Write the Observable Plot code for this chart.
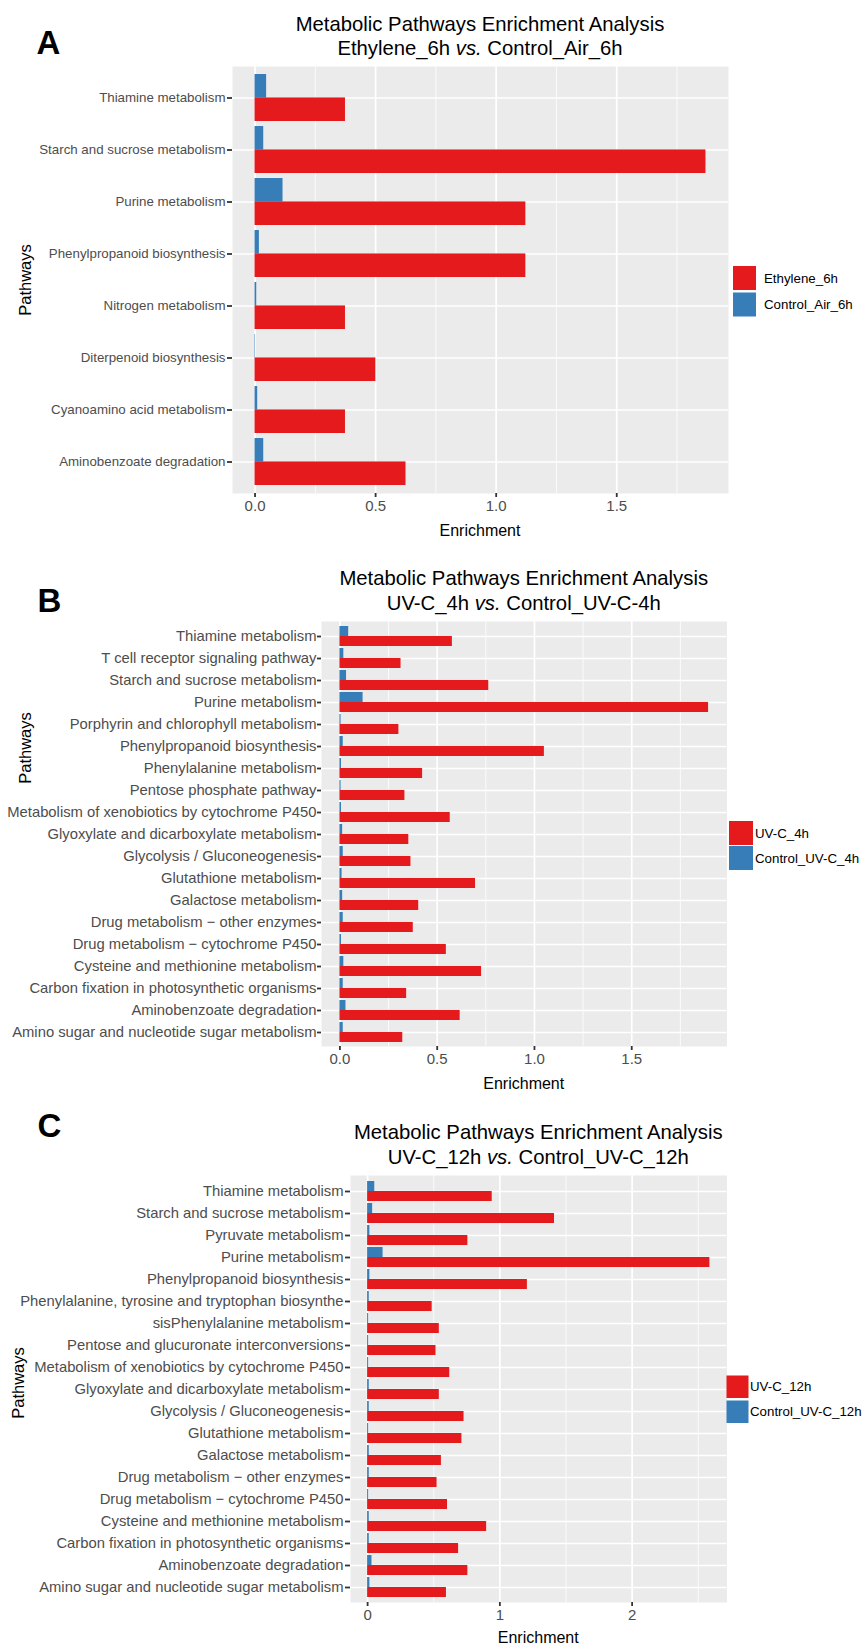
<!DOCTYPE html>
<html><head><meta charset="utf-8">
<script src="https://cdn.jsdelivr.net/npm/d3@7"></script>
<script src="https://cdn.jsdelivr.net/npm/@observablehq/plot@0.6"></script>
<style>
body{margin:0;background:#fff;font-family:"Liberation Sans",Arial,sans-serif;}
#page{position:relative;width:863px;height:1645px;overflow:hidden;background:#fff;}
</style></head><body><div id="page"></div>
<script>
// ---------- DATA ----------
const catsA = ["Thiamine metabolism","Starch and sucrose metabolism","Purine metabolism","Phenylpropanoid biosynthesis","Nitrogen metabolism","Diterpenoid biosynthesis","Cyanoamino acid metabolism","Aminobenzoate degradation"];
const treatA = [0.375,1.870,1.123,1.123,0.375,0.501,0.375,0.626];
const controlA = [0.048,0.036,0.116,0.018,0.007,0.002,0.011,0.036];
const seriesA = ["Ethylene_6h","Control_Air_6h"];

const catsB = ["Thiamine metabolism","T cell receptor signaling pathway","Starch and sucrose metabolism","Purine metabolism","Porphyrin and chlorophyll metabolism","Phenylpropanoid biosynthesis","Phenylalanine metabolism","Pentose phosphate pathway","Metabolism of xenobiotics by cytochrome P450","Glyoxylate and dicarboxylate metabolism","Glycolysis / Gluconeogenesis","Glutathione metabolism","Galactose metabolism","Drug metabolism \u2212 other enzymes","Drug metabolism \u2212 cytochrome P450","Cysteine and methionine metabolism","Carbon fixation in photosynthetic organisms","Aminobenzoate degradation","Amino sugar and nucleotide sugar metabolism"];
const treatB = [0.578,0.314,0.765,1.895,0.303,1.051,0.425,0.334,0.567,0.354,0.365,0.697,0.405,0.377,0.547,0.728,0.343,0.618,0.323];
const controlB = [0.045,0.020,0.034,0.119,0.006,0.017,0.008,0.006,0.008,0.014,0.017,0.011,0.014,0.017,0.008,0.020,0.017,0.031,0.017];
const seriesB = ["UV-C_4h","Control_UV-C_4h"];

const catsC = ["Thiamine metabolism","Starch and sucrose metabolism","Pyruvate metabolism","Purine metabolism","Phenylpropanoid biosynthesis","Phenylalanine, tyrosine and tryptophan biosynthe","sisPhenylalanine metabolism","Pentose and glucuronate interconversions","Metabolism of xenobiotics by cytochrome P450","Glyoxylate and dicarboxylate metabolism","Glycolysis / Gluconeogenesis","Glutathione metabolism","Galactose metabolism","Drug metabolism \u2212 other enzymes","Drug metabolism \u2212 cytochrome P450","Cysteine and methionine metabolism","Carbon fixation in photosynthetic organisms","Aminobenzoate degradation","Amino sugar and nucleotide sugar metabolism"];
const treatC = [0.942,1.413,0.758,2.588,1.208,0.488,0.542,0.517,0.621,0.542,0.729,0.713,0.558,0.525,0.604,0.900,0.688,0.758,0.596];
const controlC = [0.054,0.038,0.017,0.117,0.017,0.0125,0.008,0.008,0.008,0.0125,0.0125,0.008,0.0125,0.0125,0.008,0.0125,0.0125,0.033,0.017];
const seriesC = ["UV-C_12h","Control_UV-C_12h"];

const majorAB = [0, 0.5, 1, 1.5];
const minorAB = [0.25, 0.75, 1.25, 1.75];
const majorC = [0, 1, 2];
const minorC = [0.5, 1.5, 2.5];

const titleLine1 = "Metabolic Pathways Enrichment Analysis";
const titleA = ["Ethylene_6h ", "vs.", " Control_Air_6h"];
const titleB = ["UV-C_4h ", "vs.", " Control_UV-C-4h"];
const titleC = ["UV-C_12h ", "vs.", " Control_UV-C_12h"];
const xTitle = "Enrichment";
const yTitle = "Pathways";

// ---------- STYLE ----------
const W = 863;
const FONT = "'Liberation Sans', Arial, sans-serif";
const RED = "#e41a1c", BLUE = "#377eb8";
const page = document.getElementById("page");

const overlay = d3.select(page).append("svg")
  .attr("width", W).attr("height", 1645)
  .style("position","absolute").style("left","0px").style("top","0px")
  .style("font-family", FONT).style("pointer-events","none").style("z-index", 2);

function panel(cfg) {
  const n = cfg.cats.length;
  const H = cfg.B - cfg.T;
  const step = H / (n + 0.2);
  const half = 0.45 * step;
  const mt = 6, mb = 34;
  const mx = d3.max(cfg.treat);
  const rows = cfg.cats.map((c, i) => ({cat: c, treat: cfg.treat[i], control: cfg.control[i]}));
  const chart = Plot.plot({
    width: W, height: H + mt + mb,
    marginLeft: cfg.L, marginRight: W - cfg.R, marginTop: mt, marginBottom: mb,
    style: {fontFamily: FONT, background: "transparent", overflow: "visible"},
    x: {domain: [-0.05 * mx, 1.05 * mx]},
    y: {domain: cfg.cats, paddingInner: 0.1, paddingOuter: 0.15},
    marks: [
      Plot.frame({fill: "#ebebeb", stroke: "none"}),
      Plot.gridX({ticks: cfg.minor, stroke: "#fff", strokeOpacity: 1, strokeWidth: 0.8}),
      Plot.gridX({ticks: cfg.major, stroke: "#fff", strokeOpacity: 1, strokeWidth: 1.7}),
      Plot.gridY({stroke: "#fff", strokeOpacity: 1, strokeWidth: 1.7}),
      Plot.barX(rows, {x: "control", y: "cat", fill: BLUE, insetBottom: half}),
      Plot.barX(rows, {x: "treat", y: "cat", fill: RED, insetTop: half}),
      Plot.axisY({tickSize: cfg.ytick, tickPadding: cfg.ypad, fontSize: cfg.yfs, stroke: "#333", fill: "#4d4d4d", strokeWidth: 1.8, label: null}),
      Plot.axisX({ticks: cfg.major, tickFormat: cfg.fmt, tickSize: 4, tickPadding: 3, fontSize: 15, stroke: "#333", fill: "#4d4d4d", strokeWidth: 1.8, label: null})
    ]
  });
  chart.style.position = "absolute";
  chart.style.left = "0px";
  chart.style.top = (cfg.T - mt) + "px";
  page.appendChild(chart);

  const cx = (cfg.L + cfg.R) / 2;
  // panel letter
  overlay.append("text").attr("x", cfg.letterX).attr("y", cfg.letterY)
    .attr("dominant-baseline","central").attr("font-size", 33).attr("font-weight","bold")
    .attr("fill","#000").text(cfg.letter);
  // titles
  overlay.append("text").attr("x", cx).attr("y", cfg.t1).attr("text-anchor","middle")
    .attr("dominant-baseline","central").attr("font-size", 20.3).attr("fill","#000").text(titleLine1);
  const t2 = overlay.append("text").attr("x", cx).attr("y", cfg.t2).attr("text-anchor","middle")
    .attr("dominant-baseline","central").attr("font-size", 20.3).attr("fill","#000");
  t2.append("tspan").text(cfg.title[0]);
  t2.append("tspan").attr("font-style","italic").text(cfg.title[1]);
  t2.append("tspan").text(cfg.title[2]);
  // axis titles
  overlay.append("text").attr("x", cx).attr("y", cfg.xTitleY).attr("text-anchor","middle")
    .attr("dominant-baseline","central").attr("font-size", 16).attr("fill","#000").text(xTitle);
  overlay.append("text").attr("transform", `translate(${cfg.yTitleX},${cfg.yTitleY}) rotate(-90)`)
    .attr("text-anchor","middle").attr("dominant-baseline","central")
    .attr("font-size", 16.5).attr("fill","#000").text(yTitle);
  // legend
  const lg = cfg.legend;
  [[cfg.series[0], RED, lg.y0], [cfg.series[1], BLUE, lg.y1]].forEach(([name, col, y]) => {
    overlay.append("rect").attr("x", lg.x).attr("y", y).attr("width", lg.w).attr("height", lg.h).attr("fill", col);
    overlay.append("text").attr("x", lg.tx).attr("y", y + lg.h / 2).attr("dominant-baseline","central")
      .attr("font-size", 13.3).attr("fill","#000").text(name);
  });
}

panel({
  cats: catsA, treat: treatA, control: controlA, series: seriesA, title: titleA,
  L: 232, R: 728, T: 66, B: 493, major: majorAB, minor: minorAB, fmt: d3.format(".1f"),
  ytick: 5, ypad: 2, yfs: 13.3,
  letter: "A", letterX: 36.5, letterY: 42, t1: 24, t2: 47.5,
  xTitleY: 530, yTitleX: 25, yTitleY: 280,
  legend: {x: 733, w: 23, h: 24, y0: 266, y1: 292.5, tx: 764}
});
panel({
  cats: catsB, treat: treatB, control: controlB, series: seriesB, title: titleB,
  L: 321, R: 726.5, T: 620.5, B: 1045.5, major: majorAB, minor: minorAB, fmt: d3.format(".1f"),
  ytick: 4, ypad: 1, yfs: 14.8,
  letter: "B", letterX: 37.5, letterY: 600, t1: 578, t2: 602.5,
  xTitleY: 1083, yTitleX: 25, yTitleY: 748,
  legend: {x: 729, w: 24, h: 24, y0: 821, y1: 846, tx: 755}
});
panel({
  cats: catsC, treat: treatC, control: controlC, series: seriesC, title: titleC,
  L: 350, R: 726.5, T: 1175, B: 1602, major: majorC, minor: minorC, fmt: d3.format("d"),
  ytick: 5, ypad: 2, yfs: 14.8,
  letter: "C", letterX: 37.5, letterY: 1125, t1: 1132, t2: 1156.5,
  xTitleY: 1637, yTitleX: 17.5, yTitleY: 1383,
  legend: {x: 726.5, w: 22, h: 22.5, y0: 1375.5, y1: 1400.5, tx: 750}
});
</script></body></html>
